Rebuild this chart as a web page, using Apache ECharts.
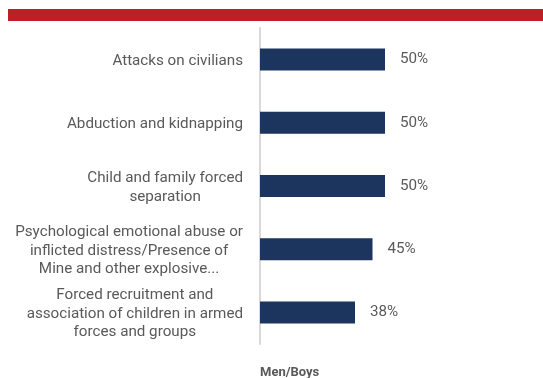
<!DOCTYPE html>
<html>
<head>
<meta charset="utf-8">
<script src="https://cdn.jsdelivr.net/npm/echarts@6/dist/echarts.min.js"></script>
<style>
  html, body { margin: 0; padding: 0; background: #fff; }
  #chart { width: 543px; height: 378px; }
</style>
</head>
<body>
<div id="chart"></div>
<script>
// Categories, one line per array entry of text
const categories = [
  ['Attacks on civilians'],
  ['Abduction and kidnapping'],
  ['Child and family forced', 'separation'],
  ['Psychological emotional abuse or', 'inflicted distress/Presence of', 'Mine and other explosive...'],
  ['Forced recruitment and', 'association of children in armed', 'forces and groups']
];
// Share of respondents (%)
const values = [50, 50, 50, 45, 38];
const seriesName = 'Men/Boys';

const chart = echarts.init(document.getElementById('chart'));
const font = 'Roboto, "Noto Sans", sans-serif';
const fs = 15.2;

chart.setOption({
  animation: false,
  title: {
    text: seriesName,
    left: 260,
    top: 366,
    padding: 0,
    textStyle: { fontFamily: font, fontSize: 13, fontWeight: 'bold', color: '#595959' }
  },
  graphic: [{
    type: 'rect',
    left: 8, top: 9,
    shape: { width: 535, height: 12 },
    style: { fill: '#BE1F25' }
  }],
  grid: { left: 260, right: 33, top: 28, bottom: 34, containLabel: false },
  xAxis: {
    type: 'value', min: 0, max: 100, show: false
  },
  yAxis: {
    type: 'category',
    inverse: true,
    data: categories.map(c => c.join('\n')),
    axisTick: { show: false },
    axisLine: { show: true, lineStyle: { color: '#d9d9d9', width: 2 } },
    axisLabel: {
      margin: 17,
      align: 'right',
      fontFamily: font,
      fontSize: fs,
      color: '#595959',
      lineHeight: 18.5,
      padding: [3, 0, 0, 0],
      formatter: v => v.split('\n').map(l => '{c|' + l + '}').join('\n'),
      rich: { c: { align: 'center', fontFamily: font, fontSize: fs, color: '#595959', lineHeight: 18.5 } }
    }
  },
  series: [{
    name: seriesName,
    type: 'bar',
    data: values,
    barWidth: 22,
    itemStyle: { color: '#1C355E' },
    label: {
      show: true,
      position: 'right',
      distance: 15,
      formatter: '{c}%',
      fontFamily: font,
      fontSize: fs,
      color: '#595959',
      padding: [3, 0, 0, 0]
    }
  }]
});
</script>
</body>
</html>
